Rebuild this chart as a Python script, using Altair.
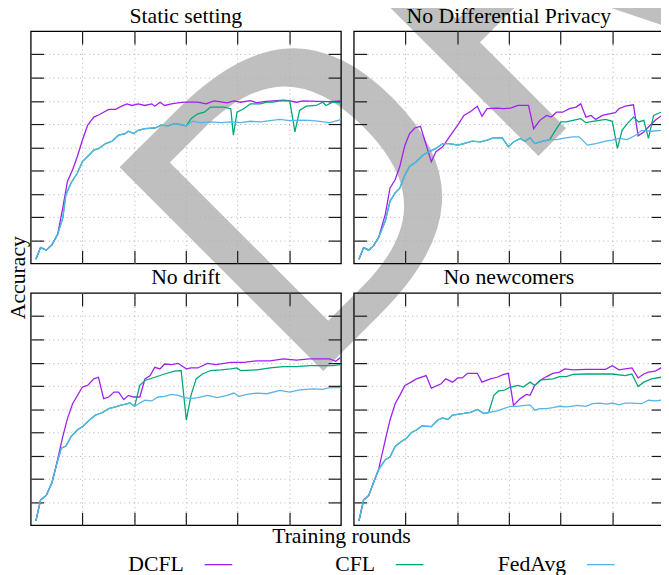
import altair as alt
import pandas as pd

SERIF = "Liberation Serif"
SANS = "DejaVu Sans"

series_names = ["DCFL", "CFL", "FedAvg"]
series_colors = ["#A020F0", "#00A878", "#56B4E9"]
panel_titles = ["Static setting", "No Differential Privacy", "No drift", "No newcomers"]
x_ticks = [10, 20, 30, 40, 50]
y_ticks = [10, 20, 30, 40, 50, 60, 70, 80, 90]

# ---------------- Static setting ----------------
static_fedavg_x = [1.0, 1.9, 3.0, 4.1, 5.2, 6.2, 6.8, 7.8, 9.0, 10.0, 11.3, 12.2, 13.2, 14.5, 15.7, 17.0, 18.3, 18.9, 19.9, 20.8,
                   22.1, 24.0, 25.3, 26.6, 27.8, 29.1, 30.1, 31.3, 32.9, 34.8, 36.8, 38.7, 40.6, 42.5, 44.4, 46.3, 48.2, 50.1,
                   52.0, 53.9, 55.9, 57.8, 60.0]
static_fedavg_y = [1.8, 6.8, 5.7, 8.0, 12.5, 19.6, 29.6, 34.6, 38.8, 43.8, 46.7, 48.8, 49.5, 51.6, 52.6, 55.2, 55.9, 56.9, 55.9, 57.3,
                   58.0, 58.3, 59.5, 59.2, 60.2, 59.7, 59.2, 61.2, 60.6, 60.9, 60.6, 60.9, 60.6, 61.2, 60.9, 61.5, 62.0, 61.5,
                   61.7, 61.6, 61.2, 60.6, 61.9]
static_cfl_x = static_fedavg_x[:27] + [31.0, 32.3, 33.6, 34.8, 36.1, 37.4, 38.7, 39.2, 39.9, 41.2, 42.5, 44.4, 45.7, 46.9, 48.2,
                                       50.1, 51.1, 52.0, 53.3, 55.2, 56.5, 57.1, 58.4, 60.0]
static_cfl_y = static_fedavg_y[:27] + [62.3, 64.4, 65.1, 67.3, 67.3, 67.3, 66.6, 55.2, 65.1, 66.6, 68.7, 68.7, 69.4, 69.4, 70.0,
                                       70.0, 56.6, 65.9, 67.7, 68.0, 69.4, 68.0, 69.4, 69.1]
static_dcfl_x = static_fedavg_x[:5] + [6.2, 7.1, 8.1, 9.0, 10.0, 11.0, 12.2, 13.2, 14.1, 15.1, 16.4, 17.6, 18.6, 19.6, 20.8, 22.1,
                                       23.4, 24.0, 25.0, 25.9, 27.2, 28.5, 29.7, 32.3, 33.9, 35.5, 38.0, 39.3, 40.6, 42.5, 43.8,
                                       45.0, 46.9, 48.9, 50.1, 51.4, 52.7, 55.2, 57.8, 60.0]
static_dcfl_y = static_fedavg_y[:5] + [23.9, 35.3, 40.3, 45.9, 53.1, 59.5, 63.0, 64.0, 65.1, 66.3, 66.3, 67.7, 68.7, 68.0, 68.7,
                                       68.0, 68.7, 67.7, 69.4, 68.0, 68.7, 69.1, 69.4, 69.4, 68.7, 70.0, 69.1, 70.0, 69.4, 70.1,
                                       69.1, 69.7, 70.0, 70.3, 70.0, 69.4, 70.0, 69.8, 69.7, 70.0]

# ---------------- No Differential Privacy ----------------
nodp_fedavg_x = [1.0, 1.9, 2.9, 3.8, 4.8, 6.1, 7.0, 8.0, 8.9, 9.9, 10.8, 12.1, 13.4, 14.6, 15.9, 17.2, 18.5, 20.1, 21.3, 22.9,
                 24.5, 25.8, 27.1, 28.7, 29.9, 30.9, 32.2, 33.1, 34.1, 35.0, 36.6, 37.9, 39.2, 40.4, 42.4, 43.6, 45.2, 46.8,
                 48.7, 50.0, 51.3, 52.9, 54.5, 55.7, 57.6, 59.4, 60.0]
nodp_fedavg_y = [1.8, 6.8, 5.7, 7.5, 11.1, 18.2, 26.7, 30.3, 32.4, 38.1, 41.7, 43.8, 46.7, 48.1, 49.5, 51.6, 51.6, 50.9, 51.6, 52.6,
                 52.3, 53.1, 54.1, 54.1, 50.2, 52.3, 53.8, 52.6, 54.1, 51.6, 52.6, 53.3, 53.3, 53.8, 54.5, 54.5, 50.9, 51.6,
                 52.6, 53.1, 53.8, 53.3, 55.2, 57.3, 56.9, 57.3, 57.6]
nodp_cfl_x = nodp_fedavg_x[:32] + [39.2, 40.1, 41.1, 42.4, 43.9, 44.9, 46.2, 47.5, 48.7, 50.0, 51.0, 51.9, 52.9, 54.1, 55.1,
                                   56.1, 57.0, 58.0, 59.4, 60.0]
nodp_cfl_y = nodp_fedavg_y[:32] + [58.0, 60.9, 60.9, 61.6, 62.3, 60.6, 61.2, 61.6, 62.0, 61.2, 49.5, 57.3, 60.2, 63.0, 60.9,
                                   61.6, 53.8, 63.7, 65.1, 65.9]
nodp_dcfl_x = nodp_fedavg_x[:5] + [6.1, 7.0, 8.0, 8.9, 9.9, 10.8, 11.8, 12.9, 15.0, 15.9, 17.2, 18.5, 20.1, 21.3, 22.6, 23.9,
                                   24.8, 25.8, 27.7, 29.0, 30.3, 31.8, 33.8, 34.8, 36.0, 37.3, 38.2, 39.2, 40.4, 41.7, 43.0,
                                   43.9, 44.9, 45.9, 46.8, 48.1, 49.4, 50.6, 51.3, 52.5, 54.1, 55.0, 56.1, 57.0, 58.3, 59.4, 60.0]
nodp_dcfl_y = nodp_fedavg_y[:5] + [21.1, 32.4, 36.0, 41.7, 50.9, 55.9, 58.3, 59.0, 43.8, 48.1, 50.2, 54.5, 59.5, 63.7, 65.4,
                                   67.7, 63.4, 66.6, 66.9, 66.6, 66.9, 68.0, 68.0, 58.0, 61.6, 63.7, 63.0, 65.1, 65.1, 66.6,
                                   67.3, 68.7, 63.0, 63.7, 62.0, 63.7, 64.4, 64.9, 66.6, 67.7, 68.3, 54.9, 56.6, 58.7, 61.6,
                                   63.4, 64.4]

# ---------------- No drift ----------------
nodrift_fedavg_x = [1.0, 1.9, 3.0, 4.1, 4.9, 5.9, 6.8, 7.8, 9.0, 10.0, 11.3, 12.5, 13.8, 15.1, 16.4, 17.3, 18.3, 19.2, 20.1,
                    21.1, 22.1, 23.4, 24.6, 25.9, 27.2, 28.5, 29.7, 31.0, 32.3, 34.2, 36.1, 38.0, 39.3, 40.3, 41.8, 43.8,
                    45.7, 48.2, 50.1, 52.0, 54.6, 56.5, 57.8, 60.0]
nodrift_fedavg_y = [1.8, 10.8, 12.8, 18.2, 25.3, 33.1, 34.1, 38.1, 41.0, 42.4, 45.2, 47.4, 48.4, 50.2, 50.9, 51.6, 52.1, 52.6,
                    51.2, 52.6, 53.8, 53.5, 55.2, 55.5, 56.3, 55.9, 54.9, 54.5, 54.9, 55.9, 54.9, 55.9, 56.9, 55.5, 56.3,
                    56.9, 56.6, 58.0, 57.3, 58.3, 58.7, 58.5, 59.2, 59.2]
nodrift_cfl_x = nodrift_fedavg_x[:19] + [21.1, 22.1, 24.0, 25.9, 27.8, 29.1, 30.1, 31.0, 32.0, 33.2, 34.8, 36.8, 38.7, 39.9,
                                         40.6, 43.8, 46.3, 48.9, 51.4, 53.9, 56.5, 58.4, 60.0]
nodrift_cfl_y = nodrift_fedavg_y[:19] + [60.2, 62.3, 63.7, 65.1, 66.3, 66.6, 45.2, 55.9, 63.0, 65.1, 66.6, 66.9, 67.3, 67.7,
                                         66.6, 66.9, 67.7, 68.3, 68.3, 68.7, 68.7, 68.7, 69.1]
nodrift_dcfl_x = nodrift_fedavg_x[:5] + [6.2, 7.1, 8.1, 10.0, 11.0, 12.2, 13.1, 14.1, 15.1, 16.1, 17.0, 18.0, 18.9, 19.9, 21.1,
                                         22.1, 23.1, 24.0, 25.0, 25.9, 27.2, 28.5, 30.1, 31.0, 32.3, 34.2, 35.8, 37.4, 38.7,
                                         41.2, 43.8, 46.3, 48.9, 51.4, 53.9, 55.9, 57.8, 59.0, 60.0]
nodrift_dcfl_y = nodrift_fedavg_y[:5] + [38.1, 45.9, 52.3, 59.5, 60.2, 63.0, 63.7, 54.5, 55.2, 57.3, 57.3, 54.1, 55.9, 55.2,
                                         55.2, 63.0, 64.4, 68.0, 67.3, 69.4, 69.1, 69.7, 67.3, 67.7, 67.7, 69.7, 69.1, 69.7,
                                         70.1, 70.1, 70.8, 70.8, 71.6, 71.1, 71.6, 71.6, 71.6, 70.6, 72.3]

# ---------------- No newcomers ----------------
nonew_fedavg_x = [1.0, 1.9, 2.9, 3.8, 4.8, 6.1, 7.0, 8.0, 9.2, 10.2, 11.1, 12.1, 13.2, 15.0, 16.2, 17.2, 18.2, 19.1, 20.4, 21.3,
                  22.6, 23.9, 25.2, 26.1, 27.7, 29.0, 30.3, 31.5, 33.1, 34.1, 35.0, 36.0, 37.3, 38.5, 39.8, 41.1, 42.0, 43.3,
                  44.9, 46.2, 47.5, 49.0, 50.0, 51.3, 52.5, 53.8, 55.7, 57.0, 58.3, 59.4, 60.0]
nonew_fedavg_y = [1.8, 10.8, 12.8, 18.2, 23.9, 28.2, 29.3, 33.9, 36.0, 37.4, 39.8, 41.0, 42.7, 42.4, 45.2, 46.2, 45.5, 47.4,
                  47.8, 48.1, 48.6, 49.8, 48.1, 48.5, 49.2, 50.2, 51.2, 51.2, 51.6, 51.8, 49.5, 50.2, 50.2, 50.6, 51.2, 50.9,
                  51.2, 51.6, 51.2, 52.3, 52.6, 52.1, 52.6, 51.8, 52.6, 52.6, 52.3, 53.8, 53.5, 53.8, 53.8]
nonew_cfl_x = nonew_fedavg_x[:24] + [27.1, 28.0, 29.0, 30.3, 31.8, 32.8, 34.1, 35.0, 36.3, 38.5, 39.8, 41.1, 42.4, 44.9, 47.5,
                                     50.0, 52.5, 53.8, 55.0, 56.1, 57.6, 59.4, 60.0]
nonew_cfl_y = nonew_fedavg_y[:24] + [55.9, 57.8, 58.0, 59.5, 60.2, 59.5, 61.6, 60.2, 62.6, 63.0, 64.0, 64.0, 64.9, 65.1, 65.1,
                                     65.1, 64.4, 65.1, 59.7, 61.6, 63.0, 63.7, 64.0]
nonew_dcfl_x = nonew_fedavg_x[:5] + [6.1, 7.0, 8.0, 8.9, 9.9, 11.1, 12.1, 14.0, 15.0, 16.9, 17.8, 19.1, 20.1, 21.0, 22.0, 23.9,
                                     24.8, 26.4, 27.7, 29.0, 29.9, 30.9, 32.2, 33.4, 34.1, 35.0, 36.0, 37.3, 38.5, 39.8, 40.8,
                                     42.4, 44.9, 47.5, 48.7, 50.0, 51.3, 52.5, 53.8, 55.0, 56.1, 57.0, 58.3, 59.4, 60.0]
nonew_dcfl_y = nonew_fedavg_y[:5] + [36.7, 45.2, 52.3, 55.9, 60.2, 61.6, 63.0, 64.4, 59.0, 60.9, 63.0, 61.6, 63.4, 63.4, 65.4,
                                     65.4, 61.6, 63.0, 63.7, 64.9, 65.4, 51.6, 54.5, 56.3, 55.9, 60.2, 62.3, 64.0, 65.4, 65.9,
                                     67.3, 66.9, 67.1, 67.1, 67.1, 68.7, 66.9, 67.3, 67.7, 63.4, 65.1, 65.9, 66.3, 67.7, 68.0]

panels_data = [
    {"DCFL": (static_dcfl_x, static_dcfl_y), "CFL": (static_cfl_x, static_cfl_y), "FedAvg": (static_fedavg_x, static_fedavg_y)},
    {"DCFL": (nodp_dcfl_x, nodp_dcfl_y), "CFL": (nodp_cfl_x, nodp_cfl_y), "FedAvg": (nodp_fedavg_x, nodp_fedavg_y)},
    {"DCFL": (nodrift_dcfl_x, nodrift_dcfl_y), "CFL": (nodrift_cfl_x, nodrift_cfl_y), "FedAvg": (nodrift_fedavg_x, nodrift_fedavg_y)},
    {"DCFL": (nonew_dcfl_x, nonew_dcfl_y), "CFL": (nonew_cfl_x, nonew_cfl_y), "FedAvg": (nonew_fedavg_x, nonew_fedavg_y)},
]

PW, PH = 314, 235
XS = alt.Scale(domain=[0, 60], nice=False, zero=False)
YS = alt.Scale(domain=[0, 100], nice=False, zero=False)
GRID = dict(grid=True, ticks=False, labels=False, domain=False, gridColor="#b0b0b0",
            gridDash=[1, 3.5], gridWidth=1)
TICK = dict(grid=False, ticks=True, labels=False, domain=False, tickSize=13, tickColor="#1a1a1a",
            tickWidth=1.2, offset=-13, title=None)
NOBORDER = alt.ViewBackground(strokeOpacity=0)


def panel(title, data, ytitle=None, xtitle=None):
    frames = []
    for s in series_names:
        xs, ys = data[s]
        frames.append(pd.DataFrame({"x": xs, "y": ys, "series": s}))
    allpts = pd.concat(frames, ignore_index=True)
    base = alt.Chart(allpts)

    if xtitle:
        xgrid = alt.Axis(values=x_ticks, title=xtitle, titleX=314, titleY=18, titleAngle=0,
                         titleAlign="center", titleBaseline="alphabetic", **GRID)
    else:
        xgrid = alt.Axis(values=x_ticks, title=None, **GRID)
    if ytitle:
        ygrid = alt.Axis(values=y_ticks, title=ytitle, titleX=-6, titleY=249, titleAngle=270,
                         titleAlign="center", titleBaseline="alphabetic", **GRID)
    else:
        ygrid = alt.Axis(values=y_ticks, title=None, **GRID)

    grid = base.mark_point(opacity=0).encode(
        x=alt.X("x:Q", scale=XS, axis=xgrid),
        y=alt.Y("y:Q", scale=YS, axis=ygrid),
    )
    lines = []
    for s, c in zip(series_names, series_colors):
        lines.append(
            base.transform_filter(alt.datum.series == s)
            .mark_line(color=c, strokeWidth=1.3)
            .encode(x=alt.X("x:Q", scale=XS, axis=None), y=alt.Y("y:Q", scale=YS, axis=None))
        )
    ticks_a = base.mark_point(opacity=0).encode(
        x=alt.X("x:Q", scale=XS, axis=alt.Axis(orient="bottom", values=x_ticks, **TICK)),
        y=alt.Y("y:Q", scale=YS, axis=alt.Axis(orient="left", values=y_ticks, **TICK)),
    )
    ticks_b = base.mark_point(opacity=0).encode(
        x=alt.X("x:Q", scale=XS, axis=alt.Axis(orient="top", values=x_ticks, **TICK)),
        y=alt.Y("y:Q", scale=YS, axis=alt.Axis(orient="right", values=y_ticks, **TICK)),
    )
    return (
        alt.layer(grid, *lines, ticks_a, ticks_b)
        .resolve_axis(x="independent", y="independent")
        .properties(width=PW, height=PH, title=title)
    )


p1 = panel(panel_titles[0], panels_data[0], ytitle="Accuracy")
p2 = panel(panel_titles[1], panels_data[1])
p3 = panel(panel_titles[2], panels_data[2], xtitle="Training rounds")
p4 = panel(panel_titles[3], panels_data[3])

# custom legend: label, then a short line sample
leg_df = pd.DataFrame({"name": series_names, "color": series_colors, "pos": [0, 1, 2]})
LS = alt.Scale(domain=[-0.9096, 0.7132], nice=False, zero=False)
leg_text = alt.Chart(leg_df).mark_text(
    align="right", baseline="alphabetic", dx=-21, font=SERIF, fontSize=22, color="black"
).encode(x=alt.X("pos:Q", scale=LS, axis=None), y=alt.value(16.5), text="name:N")
leg_line = alt.Chart(leg_df).mark_rule(strokeWidth=1.3, x2Offset=28).encode(
    x=alt.X("pos:Q", scale=LS, axis=None), x2="pos:Q", y=alt.value(10),
    color=alt.Color("color:N", scale=None),
)
legend = alt.layer(leg_text, leg_line).properties(width=PW, height=30, view=NOBORDER)

# draft watermark (first view -> drawn beneath everything)
wm = alt.Chart(pd.DataFrame({"label": ["DRAFT"]})).mark_text(
    font=SANS, fontSize=400, color="#bfbfbf", angle=315, align="left", baseline="alphabetic"
).encode(text="label:N", x=alt.value(282.4), y=alt.value(371.8)).properties(
    width=1, height=1, view=NOBORDER
)


def blank():
    return alt.Chart(pd.DataFrame({"v": [0]})).mark_point(opacity=0).encode(
        x=alt.X("v:Q", axis=None), y=alt.Y("v:Q", axis=None)
    ).properties(width=1, height=1, view=NOBORDER)


chart = (
    alt.concat(wm, p1, p2, blank(), p3, p4, blank(), legend,
               columns=3, spacing={"row": 30, "column": 13}, bounds="flush")
    .properties(
        autosize=alt.AutoSizeParams(type="none"),
        padding={"left": 9, "top": 20, "right": 652, "bottom": 547},
    )
    .configure(background="white")
    .configure_view(stroke="black", strokeWidth=1.3)
    .configure_title(font=SERIF, fontSize=22, fontWeight="normal", color="black",
                     anchor="middle", frame="group", offset=3, baseline="alphabetic")
    .configure_axis(titleFont=SERIF, titleFontSize=22, titleFontWeight="normal", titleColor="black")
)

chart.save("out.html", embed_options={"renderer": "svg", "actions": False})
